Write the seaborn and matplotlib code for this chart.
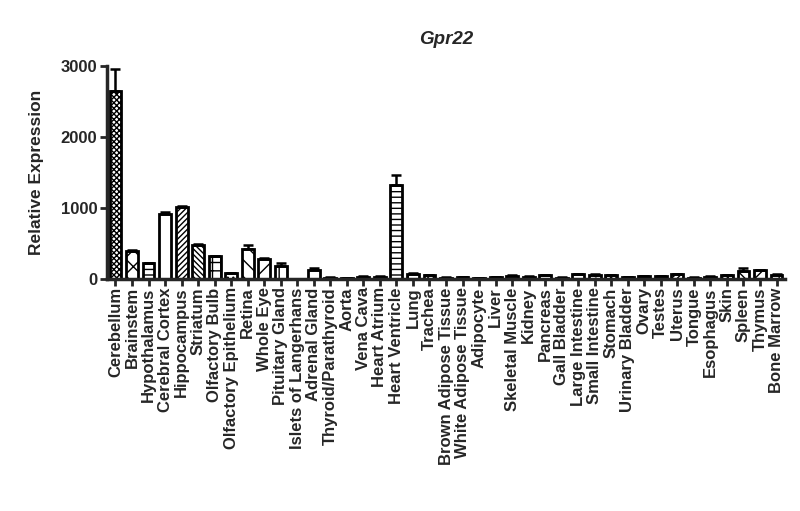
import numpy as np
import pandas as pd
import matplotlib
matplotlib.use('Agg')
import matplotlib.pyplot as plt
import seaborn as sns

tissues = ['Cerebellum', 'Brainstem', 'Hypothalamus', 'Cerebral Cortex', 'Hippocampus',
           'Striatum', 'Olfactory Bulb', 'Olfactory Epithelium', 'Retina', 'Whole Eye',
           'Pituitary Gland', 'Islets of Langerhans', 'Adrenal Gland', 'Thyroid/Parathyroid',
           'Aorta', 'Vena Cava', 'Heart Atrium', 'Heart Ventricle', 'Lung', 'Trachea',
           'Brown Adipose Tissue', 'White Adipose Tissue', 'Adipocyte', 'Liver',
           'Skeletal Muscle', 'Kidney', 'Pancreas', 'Gall Bladder', 'Large Intestine',
           'Small Intestine', 'Stomach', 'Urinary Bladder', 'Ovary', 'Testes', 'Uterus',
           'Tongue', 'Esophagus', 'Skin', 'Spleen', 'Thymus', 'Bone Marrow']
expression = [2650, 400, 220, 910, 1015, 480, 320, 80, 420, 280,
              190, 5, 130, 20, 15, 35, 35, 1320, 75, 50,
              20, 25, 8, 25, 45, 35, 55, 20, 65, 60,
              50, 25, 40, 40, 65, 20, 35, 55, 115, 125, 60]
sem = [310, 15, 10, 35, 15, 10, 10, 5, 60, 10,
       30, 0, 25, 5, 5, 5, 5, 140, 15, 5,
       5, 5, 0, 5, 5, 5, 5, 5, 5, 5,
       5, 5, 5, 5, 5, 5, 5, 5, 35, 5, 10]

hatch_cycle = ['xxxxxx', 'xx', '---', '|', '//////', '\\\\\\\\\\\\', '++', '...',
               '\\\\', '//', '||', '', '|', '--', 'oo']

df = pd.DataFrame({'tissue': tissues, 'expr': expression})

sns.set_style('ticks')
plt.rcParams['font.family'] = ['Liberation Sans', 'DejaVu Sans']
plt.rcParams['font.weight'] = 'bold'
plt.rcParams['hatch.linewidth'] = 1.0

fig = plt.figure(figsize=(8, 5.11), dpi=100)
ax = fig.add_axes([0.134, 0.454, 0.847, 0.417])

sns.barplot(data=df, x='tissue', y='expr', color='white', edgecolor='black',
            linewidth=2, width=0.72, errorbar=None, ax=ax)

for i, p in enumerate(ax.patches):
    p.set_hatch(hatch_cycle[i % len(hatch_cycle)])
    p.set_facecolor('white')
    p.set_edgecolor('black')

x = np.arange(len(tissues))
ax.errorbar(x, expression, yerr=[np.zeros(len(sem)), sem], fmt='none',
            ecolor='black', elinewidth=1.8, capsize=3.5, capthick=1.8)

ax.set_xlim(-0.5, len(tissues) - 0.5)
ax.set_ylim(0, 3000)
ax.set_yticks([0, 1000, 2000, 3000])
ax.set_xticks(x)
ax.set_xticklabels(tissues, rotation=90, fontsize=12, fontweight='bold')
ax.tick_params(axis='y', labelsize=12, width=2, length=5, pad=2)
ax.tick_params(axis='x', width=2, length=5, pad=1)
for lab in ax.get_yticklabels():
    lab.set_fontweight('bold')
ax.set_xlabel('')
ax.set_ylabel('Relative Expression', fontsize=12.5, fontweight='bold', labelpad=12)
ax.set_title('Gpr22', fontsize=13.5, fontweight='bold', style='italic', pad=16)

for side in ['top', 'right']:
    ax.spines[side].set_visible(False)
for side in ['left', 'bottom']:
    ax.spines[side].set_linewidth(2.5)

fig.savefig('out.png', dpi=100)
